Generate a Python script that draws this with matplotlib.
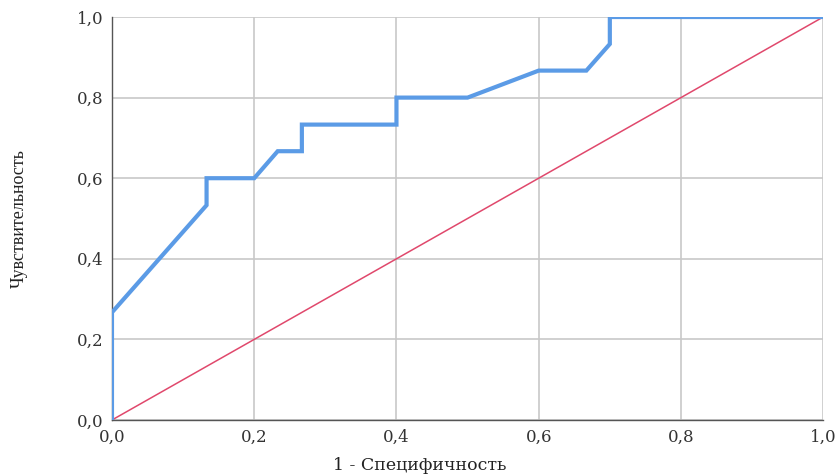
import matplotlib.pyplot as plt

# ROC curve points (1 - specificity, sensitivity)
fpr = [0.0, 0.0, 0.133, 0.133, 0.2, 0.233, 0.267, 0.267, 0.4, 0.4, 0.5, 0.6, 0.667, 0.7, 0.7, 1.0]
tpr = [0.0, 0.267, 0.533, 0.6, 0.6, 0.667, 0.667, 0.733, 0.733, 0.8, 0.8, 0.867, 0.867, 0.933, 1.0, 1.0]
ref_line = [0.0, 1.0]
ticks = [0.0, 0.2, 0.4, 0.6, 0.8, 1.0]
tick_labels = ['0,0', '0,2', '0,4', '0,6', '0,8', '1,0']

fig = plt.figure(figsize=(8.4, 4.75), dpi=100)
ax = fig.add_axes([0.1333, 0.1158, 0.8467, 0.8484])

ax.plot(ref_line, ref_line, color='#e0486c', lw=1.1, zorder=3)
ax.plot(fpr, tpr, color='#5b9be6', lw=3, solid_joinstyle='miter', zorder=4)

ax.set_xlim(0, 1)
ax.set_ylim(0, 1)
ax.set_xticks(ticks)
ax.set_yticks(ticks)
ax.set_xticklabels(tick_labels, family='DejaVu Serif', fontsize=12, color='#333333')
ax.set_yticklabels(tick_labels, family='DejaVu Serif', fontsize=12, color='#333333')
ax.tick_params(length=0, pad=6)
ax.grid(True, color='#c8c8c8', lw=1.2)
ax.set_axisbelow(True)

for side in ['top', 'right']:
    ax.spines[side].set_visible(False)
for side in ['left', 'bottom']:
    ax.spines[side].set_color('#555555')
    ax.spines[side].set_linewidth(1)

ax.set_xlabel('1 - Специфичность', family='DejaVu Serif', fontsize=12.5, color='#222222')
ax.xaxis.set_label_coords(0.433, -0.092)
ax.set_ylabel('Чувствительность', family='Liberation Serif', fontsize=13, color='#222222')
ax.yaxis.set_label_coords(-0.118, 0.5)

fig.savefig('out.png', dpi=100)
